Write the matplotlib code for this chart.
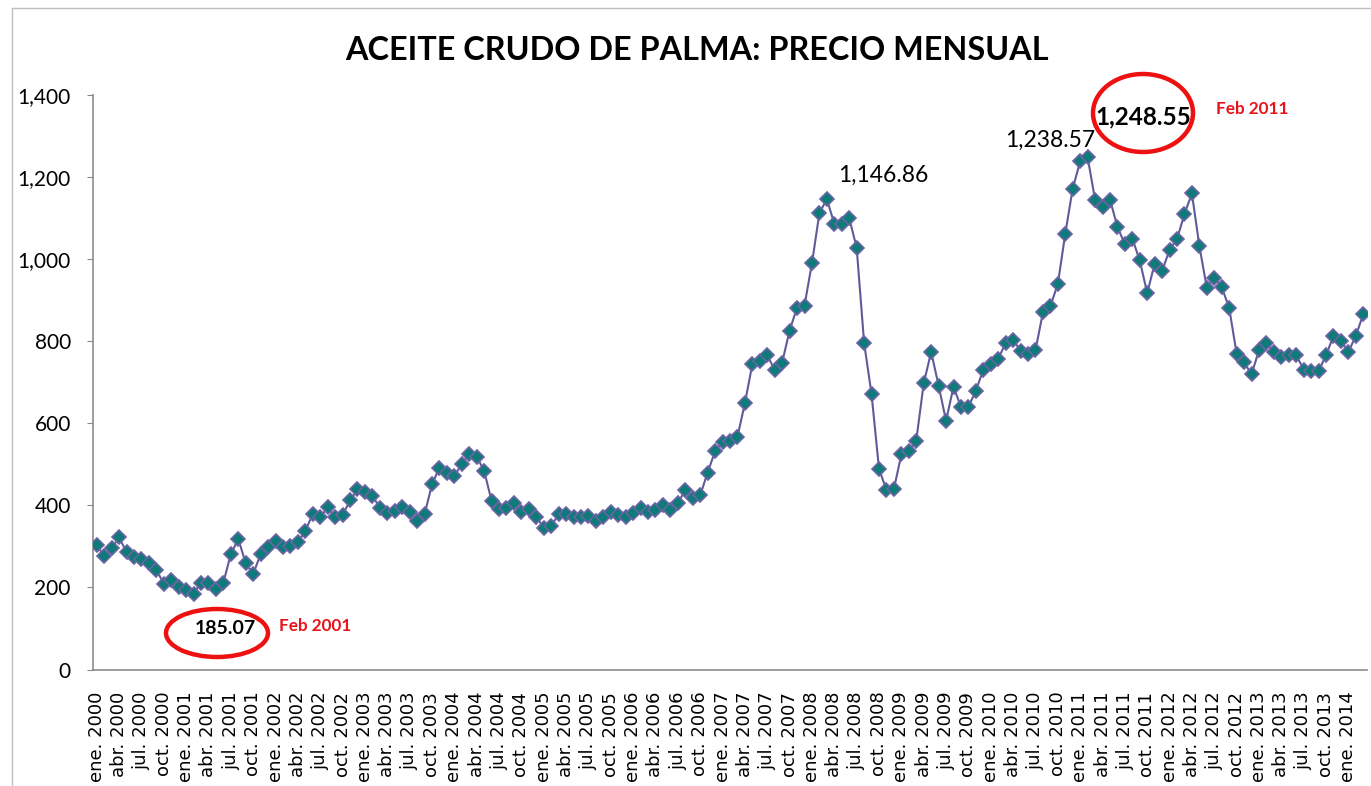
import matplotlib
matplotlib.use("Agg")
import matplotlib.pyplot as plt
from matplotlib.patches import Ellipse
from matplotlib.ticker import FuncFormatter

# ---- data (USD/t, monthly) ----
y2000 = [303, 277, 295, 322, 286, 273, 269, 259, 243, 209, 218, 200]
y2001 = [193, 185.07, 212, 212, 195, 212, 281, 318, 259, 233, 281, 299]
y2002 = [314, 298, 302, 311, 338, 379, 371, 395, 371, 376, 412, 439]
y2003 = [433, 424, 394, 382, 386, 397, 385, 363, 378, 451, 492, 480]
y2004 = [471, 502, 525, 519, 484, 411, 390, 394, 405, 385, 390, 372]
y2005 = [346, 350, 378, 378, 372, 372, 374, 363, 372, 385, 376, 371]
y2006 = [382, 394, 385, 389, 401, 389, 406, 437, 419, 425, 480, 532]
y2007 = [554, 557, 567, 649, 744, 752, 766, 730, 748, 826, 882, 887]
y2008 = [990, 1112, 1146.86, 1086, 1086, 1100, 1028, 796, 671, 489, 437, 440]
y2009 = [524, 532, 558, 697, 774, 692, 606, 689, 640, 640, 679, 731]
y2010 = [744, 757, 796, 803, 777, 770, 778, 870, 886, 939, 1062, 1172]
y2011 = [1238.57, 1248.55, 1145, 1127, 1145, 1079, 1036, 1050, 997, 917, 989, 971]
y2012 = [1023, 1049, 1110, 1160, 1032, 930, 955, 932, 881, 770, 749, 719]
y2013 = [778, 796, 774, 762, 766, 766, 731, 727, 727, 766, 813, 800]
y2014 = [774, 813, 866]

years = list(range(2000, 2015))
month_abbr = ["ene.", "feb.", "mar.", "abr.", "may.", "jun.",
              "jul.", "ago.", "sep.", "oct.", "nov.", "dic."]
yticks = [0, 200, 400, 600, 800, 1000, 1200, 1400]

series = (y2000 + y2001 + y2002 + y2003 + y2004 + y2005 + y2006 + y2007 +
          y2008 + y2009 + y2010 + y2011 + y2012 + y2013 + y2014)
categories = []
for yr in years:
    for m in month_abbr:
        categories.append(f"{m} {yr}")
categories = categories[:len(series)]
x = list(range(len(series)))

W, H = 1371, 786
fig = plt.figure(figsize=(W / 100, H / 100), dpi=100)
fig.patch.set_facecolor("white")

ax = fig.add_axes([93 / W, 1 - 669.5 / H, (1367 - 93) / W, (669.5 - 95) / H])
ax.plot(x, series, color="#5F5B9A", lw=1.5, marker="D", markersize=7.3,
        markerfacecolor="#0C7B7A", markeredgecolor="#6A64A2", markeredgewidth=1.2,
        zorder=3)
ax.set_xlim(-0.5, len(series) - 0.5)
ax.set_ylim(0, 1400)
ax.set_yticks(yticks)
ax.yaxis.set_major_formatter(FuncFormatter(lambda v, p: f"{int(v):,}"))
for lab in ax.get_yticklabels():
    lab.set_fontfamily("Lato")
    lab.set_fontsize(15)
ax.tick_params(axis="y", length=4, color="#888888", pad=12)
ax.set_xticks(x[::3])
ax.set_xticklabels(categories[::3], rotation=90, fontsize=13,
                   fontfamily="DejaVu Sans")
ax.tick_params(axis="x", length=0, pad=16)
for s in ["top", "right"]:
    ax.spines[s].set_visible(False)
for s in ["left", "bottom"]:
    ax.spines[s].set_color("#8C8C8C")
    ax.spines[s].set_linewidth(1.2)

# overlay for annotations in pixel coords
ov = fig.add_axes([0, 0, 1, 1], facecolor="none")
ov.set_xlim(0, W)
ov.set_ylim(H, 0)
ov.axis("off")

ov.plot([12, 12], [8, H], color="#BFBFBF", lw=1)
ov.plot([12, W], [8, 8], color="#BFBFBF", lw=1)

ov.text(697, 50, "ACEITE CRUDO DE PALMA: PRECIO MENSUAL", ha="center",
        va="center", fontsize=23.3, fontweight="bold", fontfamily="Lato")

ov.text(883, 175, "1,146.86", ha="center", va="center", fontsize=16.5,
        fontfamily="Lato")
ov.text(1050, 140, "1,238.57", ha="center", va="center", fontsize=16.5,
        fontfamily="Lato")
ov.text(1143, 117, "1,248.55", ha="center", va="center", fontsize=17.5,
        fontweight="bold", fontfamily="Lato")
ov.text(225, 628, "185.07", ha="center", va="center", fontsize=14,
        fontweight="bold", fontfamily="Lato")
ov.text(279, 626, "Feb 2001", ha="left", va="center", fontsize=12.3,
        fontweight="bold", fontfamily="Lato", color="#E8141B")
ov.text(1216, 109, "Feb 2011", ha="left", va="center", fontsize=12.3,
        fontweight="bold", fontfamily="Lato", color="#E8141B")

ov.add_patch(Ellipse((217, 633), 102, 48, fill=False, edgecolor="#EE1111", lw=3.2))
ov.add_patch(Ellipse((1143, 113), 100, 78, fill=False, edgecolor="#EE1111", lw=3.2))

fig.savefig("out.png", dpi=100)
